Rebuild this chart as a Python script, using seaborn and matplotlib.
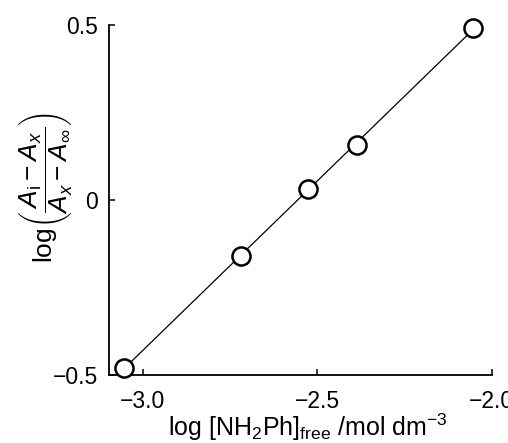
import numpy as np
import pandas as pd
import matplotlib; matplotlib.use("Agg"); import matplotlib.pyplot as plt
import seaborn as sns

# data
log_amine = [-3.054, -2.719, -2.526, -2.387, -2.054]
log_ratio = [-0.480, -0.160, 0.032, 0.157, 0.490]
xticks = [-3.0, -2.5, -2.0]
yticks = [-0.5, 0.0, 0.5]
xtick_labels = ["\u22123.0", "\u22122.5", "\u22122.0"]
ytick_labels = ["\u22120.5", "0", "0.5"]

df = pd.DataFrame({"x": log_amine, "y": log_ratio})

sns.set_style("ticks")
plt.rcParams["font.family"] = ["Liberation Sans", "DejaVu Sans"]
plt.rcParams["mathtext.fontset"] = "custom"
plt.rcParams["mathtext.rm"] = "Liberation Sans"
plt.rcParams["mathtext.it"] = "Liberation Sans:italic"
plt.rcParams["mathtext.bf"] = "Liberation Sans:bold"
plt.rcParams["text.color"] = "black"
plt.rcParams["axes.labelcolor"] = "black"
plt.rcParams["xtick.color"] = "black"; plt.rcParams["ytick.color"] = "black"

fig = plt.figure(figsize=(5.08, 4.43), dpi=100)
ax = fig.add_axes([0.2136, 0.1535, 0.968 - 0.2136, 0.9436 - 0.1535])

# fitted straight line across the data range, then open circles on top
sns.regplot(data=df, x="x", y="y", ci=None, scatter=False, truncate=True,
            line_kws=dict(color="black", lw=0.9), ax=ax)
sns.scatterplot(data=df, x="x", y="y", s=170, marker="o", facecolor="white",
                edgecolor="black", linewidth=1.8, zorder=5, clip_on=False, ax=ax)

ax.set_xlim(-3.098, -2.0); ax.set_ylim(-0.5, 0.5)
ax.set_xticks(xticks); ax.set_xticklabels(xtick_labels)
ax.set_yticks(yticks); ax.set_yticklabels(ytick_labels)
ax.tick_params(axis="both", direction="in", length=4, width=1.1, labelsize=16.5)
ax.tick_params(axis="x", pad=11); ax.tick_params(axis="y", pad=7.5)
for s in ["top", "right"]:
    ax.spines[s].set_visible(False)
for s in ["left", "bottom"]:
    ax.spines[s].set_linewidth(1.3); ax.spines[s].set_color("black")

ax.set_xlabel(r"log [NH$_2$Ph]$_{\mathrm{free}}$ /mol dm$^{-3}$", fontsize=18)
ax.xaxis.set_label_coords(0.52, -0.105)
ax.set_ylabel(r"log$\left(\dfrac{A_{\mathrm{i}}-A_x}{A_x-A_\infty}\right)$", fontsize=19)
ax.yaxis.set_label_coords(-0.087, 0.535)

fig.savefig("out.png", dpi=100)
